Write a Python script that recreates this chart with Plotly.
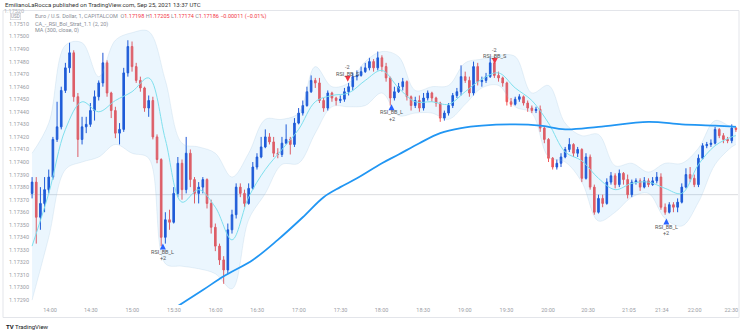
import plotly.graph_objects as go

# ---------------- data ----------------
idx = list(range(170))

opens = [1.17375, 1.17384, 1.17356, 1.17367, 1.17378, 1.17388, 1.17418, 1.17428, 1.17457, 1.17475,
         1.17487, 1.17452, 1.17418, 1.17428, 1.17430, 1.17441, 1.17452, 1.17463, 1.17479, 1.17455,
         1.17441, 1.17423, 1.17426, 1.17471, 1.17492, 1.17476, 1.17465, 1.17459, 1.17443, 1.17449,
         1.17420, 1.17402, 1.17340, 1.17354, 1.17352, 1.17375, 1.17399, 1.17378, 1.17407, 1.17386,
         1.17375, 1.17380, 1.17386, 1.17367, 1.17348, 1.17333, 1.17322, 1.17314, 1.17346, 1.17358,
         1.17380, 1.17375, 1.17367, 1.17379, 1.17396, 1.17404, 1.17412, 1.17420, 1.17416, 1.17407,
         1.17406, 1.17415, 1.17418, 1.17414, 1.17431, 1.17439, 1.17445, 1.17456, 1.17465, 1.17463,
         1.17449, 1.17443, 1.17455, 1.17451, 1.17449, 1.17450, 1.17456, 1.17460, 1.17468, 1.17469,
         1.17472, 1.17475, 1.17480, 1.17475, 1.17483, 1.17476, 1.17467, 1.17451, 1.17456, 1.17460,
         1.17464, 1.17452, 1.17445, 1.17449, 1.17443, 1.17451, 1.17455, 1.17451, 1.17447, 1.17435,
         1.17439, 1.17445, 1.17453, 1.17456, 1.17468, 1.17465, 1.17455, 1.17476, 1.17464, 1.17465,
         1.17468, 1.17479, 1.17469, 1.17467, 1.17463, 1.17448, 1.17446, 1.17450, 1.17452, 1.17447,
         1.17443, 1.17441, 1.17442, 1.17427, 1.17418, 1.17403, 1.17396, 1.17399, 1.17404, 1.17410,
         1.17414, 1.17407, 1.17410, 1.17387, 1.17404, 1.17380, 1.17360, 1.17371, 1.17367, 1.17384,
         1.17389, 1.17382, 1.17391, 1.17386, 1.17374, 1.17384, 1.17385, 1.17380, 1.17385, 1.17382,
         1.17385, 1.17388, 1.17364, 1.17360, 1.17366, 1.17364, 1.17368, 1.17380, 1.17390, 1.17387,
         1.17382, 1.17403, 1.17413, 1.17414, 1.17415, 1.17426, 1.17421, 1.17418, 1.17417, 1.17427]

highs = [1.17388, 1.17388, 1.17380, 1.17388, 1.17394, 1.17420, 1.17448, 1.17460, 1.17479, 1.17495,
         1.17489, 1.17455, 1.17436, 1.17436, 1.17447, 1.17457, 1.17465, 1.17487, 1.17481, 1.17456,
         1.17444, 1.17431, 1.17475, 1.17497, 1.17496, 1.17479, 1.17468, 1.17460, 1.17453, 1.17452,
         1.17422, 1.17403, 1.17360, 1.17362, 1.17380, 1.17404, 1.17402, 1.17420, 1.17410, 1.17388,
         1.17384, 1.17388, 1.17387, 1.17370, 1.17351, 1.17335, 1.17325, 1.17351, 1.17362, 1.17383,
         1.17383, 1.17378, 1.17383, 1.17400, 1.17407, 1.17420, 1.17426, 1.17423, 1.17420, 1.17411,
         1.17420, 1.17430, 1.17420, 1.17435, 1.17443, 1.17449, 1.17460, 1.17469, 1.17467, 1.17467,
         1.17451, 1.17457, 1.17456, 1.17452, 1.17453, 1.17459, 1.17463, 1.17471, 1.17473, 1.17476,
         1.17479, 1.17483, 1.17482, 1.17488, 1.17485, 1.17479, 1.17468, 1.17460, 1.17463, 1.17467,
         1.17465, 1.17453, 1.17452, 1.17453, 1.17455, 1.17457, 1.17456, 1.17452, 1.17448, 1.17441,
         1.17447, 1.17455, 1.17459, 1.17477, 1.17472, 1.17468, 1.17480, 1.17479, 1.17468, 1.17471,
         1.17483, 1.17484, 1.17472, 1.17468, 1.17464, 1.17451, 1.17452, 1.17454, 1.17453, 1.17449,
         1.17445, 1.17444, 1.17445, 1.17428, 1.17419, 1.17404, 1.17402, 1.17407, 1.17412, 1.17419,
         1.17415, 1.17412, 1.17411, 1.17407, 1.17406, 1.17382, 1.17374, 1.17374, 1.17387, 1.17392,
         1.17391, 1.17394, 1.17392, 1.17390, 1.17386, 1.17387, 1.17387, 1.17388, 1.17387, 1.17388,
         1.17392, 1.17391, 1.17367, 1.17368, 1.17368, 1.17371, 1.17383, 1.17395, 1.17396, 1.17390,
         1.17406, 1.17415, 1.17416, 1.17418, 1.17428, 1.17427, 1.17423, 1.17420, 1.17430, 1.17428]

lows = [1.17371, 1.17335, 1.17346, 1.17360, 1.17375, 1.17386, 1.17416, 1.17426, 1.17455, 1.17471,
        1.17448, 1.17404, 1.17414, 1.17423, 1.17428, 1.17433, 1.17449, 1.17460, 1.17452, 1.17435,
        1.17419, 1.17414, 1.17424, 1.17468, 1.17472, 1.17463, 1.17456, 1.17440, 1.17436, 1.17418,
        1.17399, 1.17333, 1.17335, 1.17346, 1.17351, 1.17372, 1.17370, 1.17375, 1.17380, 1.17367,
        1.17367, 1.17375, 1.17363, 1.17343, 1.17329, 1.17318, 1.17303, 1.17311, 1.17343, 1.17355,
        1.17372, 1.17364, 1.17366, 1.17378, 1.17394, 1.17403, 1.17411, 1.17414, 1.17404, 1.17403,
        1.17404, 1.17414, 1.17406, 1.17412, 1.17430, 1.17437, 1.17444, 1.17455, 1.17459, 1.17447,
        1.17440, 1.17441, 1.17448, 1.17445, 1.17447, 1.17448, 1.17453, 1.17457, 1.17465, 1.17468,
        1.17471, 1.17473, 1.17472, 1.17473, 1.17472, 1.17464, 1.17445, 1.17449, 1.17455, 1.17457,
        1.17449, 1.17441, 1.17443, 1.17440, 1.17441, 1.17449, 1.17448, 1.17444, 1.17432, 1.17433,
        1.17437, 1.17443, 1.17451, 1.17453, 1.17463, 1.17452, 1.17453, 1.17461, 1.17460, 1.17463,
        1.17467, 1.17467, 1.17464, 1.17460, 1.17445, 1.17444, 1.17445, 1.17448, 1.17445, 1.17440,
        1.17439, 1.17439, 1.17424, 1.17415, 1.17400, 1.17394, 1.17394, 1.17396, 1.17403, 1.17408,
        1.17404, 1.17404, 1.17384, 1.17386, 1.17378, 1.17358, 1.17359, 1.17364, 1.17366, 1.17382,
        1.17379, 1.17380, 1.17382, 1.17371, 1.17372, 1.17382, 1.17377, 1.17379, 1.17380, 1.17381,
        1.17383, 1.17362, 1.17358, 1.17359, 1.17360, 1.17360, 1.17367, 1.17379, 1.17384, 1.17380,
        1.17380, 1.17402, 1.17411, 1.17412, 1.17414, 1.17419, 1.17415, 1.17415, 1.17415, 1.17424]

closes = [1.17384, 1.17356, 1.17367, 1.17378, 1.17388, 1.17418, 1.17428, 1.17457, 1.17475, 1.17487,
          1.17452, 1.17418, 1.17428, 1.17430, 1.17441, 1.17452, 1.17463, 1.17479, 1.17455, 1.17441,
          1.17423, 1.17426, 1.17471, 1.17492, 1.17476, 1.17465, 1.17459, 1.17443, 1.17449, 1.17420,
          1.17402, 1.17340, 1.17354, 1.17352, 1.17375, 1.17399, 1.17378, 1.17407, 1.17386, 1.17375,
          1.17380, 1.17386, 1.17367, 1.17348, 1.17333, 1.17322, 1.17314, 1.17346, 1.17358, 1.17380,
          1.17375, 1.17367, 1.17379, 1.17396, 1.17404, 1.17412, 1.17420, 1.17416, 1.17407, 1.17406,
          1.17415, 1.17418, 1.17414, 1.17431, 1.17439, 1.17445, 1.17456, 1.17465, 1.17463, 1.17449,
          1.17443, 1.17455, 1.17451, 1.17449, 1.17450, 1.17456, 1.17460, 1.17468, 1.17469, 1.17472,
          1.17475, 1.17480, 1.17475, 1.17483, 1.17476, 1.17467, 1.17451, 1.17456, 1.17460, 1.17464,
          1.17452, 1.17445, 1.17449, 1.17443, 1.17451, 1.17455, 1.17451, 1.17447, 1.17435, 1.17439,
          1.17445, 1.17453, 1.17456, 1.17468, 1.17465, 1.17455, 1.17476, 1.17464, 1.17465, 1.17468,
          1.17479, 1.17469, 1.17467, 1.17463, 1.17448, 1.17446, 1.17450, 1.17452, 1.17447, 1.17443,
          1.17441, 1.17442, 1.17427, 1.17418, 1.17403, 1.17396, 1.17399, 1.17404, 1.17410, 1.17414,
          1.17407, 1.17410, 1.17387, 1.17404, 1.17380, 1.17360, 1.17371, 1.17367, 1.17384, 1.17389,
          1.17382, 1.17391, 1.17386, 1.17374, 1.17384, 1.17385, 1.17380, 1.17385, 1.17382, 1.17385,
          1.17388, 1.17364, 1.17360, 1.17366, 1.17364, 1.17368, 1.17380, 1.17390, 1.17387, 1.17382,
          1.17403, 1.17413, 1.17414, 1.17415, 1.17426, 1.17421, 1.17418, 1.17417, 1.17427, 1.17426]

band_idx = [0, 4, 8, 12, 16, 20, 24, 28, 32, 36, 40, 44, 48, 52, 56, 60, 64, 68, 72, 76, 80, 84,
            88, 92, 96, 100, 104, 108, 112, 116, 120, 124, 128, 132, 136, 140, 144, 148, 152, 156,
            160, 164, 168, 169]
bb_upper = [1.17407, 1.17431, 1.17493, 1.17495, 1.17468, 1.17497, 1.17503, 1.17504, 1.17465, 1.17415,
            1.17412, 1.17407, 1.17388, 1.17407, 1.17434, 1.17434, 1.17439, 1.17476, 1.17460, 1.17463,
            1.17480, 1.17488, 1.17484, 1.17457, 1.17460, 1.17461, 1.17479, 1.17482, 1.17485, 1.17484,
            1.17455, 1.17461, 1.17431, 1.17421, 1.17422, 1.17397, 1.17399, 1.17392, 1.17399, 1.17399,
            1.17411, 1.17433, 1.17428, 1.17429]
bb_lower = [1.17290, 1.17340, 1.17394, 1.17400, 1.17404, 1.17414, 1.17407, 1.17403, 1.17319, 1.17317,
            1.17315, 1.17311, 1.17299, 1.17354, 1.17375, 1.17398, 1.17399, 1.17423, 1.17444, 1.17444,
            1.17445, 1.17455, 1.17437, 1.17439, 1.17439, 1.17434, 1.17446, 1.17459, 1.17461, 1.17444,
            1.17439, 1.17404, 1.17400, 1.17384, 1.17353, 1.17360, 1.17372, 1.17375, 1.17355, 1.17349,
            1.17368, 1.17398, 1.17412, 1.17414]
bb_basis = [1.17333, 1.17375, 1.17426, 1.17448, 1.17440, 1.17449, 1.17456, 1.17467, 1.17418, 1.17368,
            1.17378, 1.17364, 1.17338, 1.17372, 1.17394, 1.17410, 1.17426, 1.17448, 1.17453, 1.17455,
            1.17465, 1.17473, 1.17459, 1.17448, 1.17448, 1.17446, 1.17456, 1.17466, 1.17471, 1.17459,
            1.17449, 1.17431, 1.17408, 1.17401, 1.17387, 1.17378, 1.17383, 1.17384, 1.17379, 1.17375,
            1.17398, 1.17413, 1.17420, 1.17421]

ma_idx = [33, 41, 46, 53, 59, 65, 70, 74, 78, 84, 88, 93, 98, 103, 108, 116, 122, 128, 136, 148,
          156, 164, 169]
ma_vals = [1.17281, 1.17298, 1.17309, 1.17322, 1.17338, 1.17356, 1.17372, 1.17380, 1.17387, 1.17399,
           1.17406, 1.17415, 1.17423, 1.17427, 1.17429, 1.17430, 1.17429, 1.17426, 1.17428, 1.17432,
           1.17430, 1.17429, 1.17428]

ref_price = 1.17374

tick_pos = [4.3, 14.1, 24.05, 34.06, 44.07, 54.05, 64.06, 74.06, 83.9, 93.9, 103.9, 113.9, 123.9,
            133.5, 143.3, 151.2, 159.1, 167.9]
tick_labels = ["14:00", "14:30", "15:00", "15:30", "16:00", "16:30", "17:00", "17:30", "18:00",
               "18:30", "19:00", "19:30", "20:00", "20:30", "21:05", "21:34", "22:00", "22:30"]

price_ticks = [1.17290, 1.17300, 1.17310, 1.17320, 1.17330, 1.17340, 1.17350, 1.17360, 1.17370,
               1.17380, 1.17390, 1.17400, 1.17410, 1.17420, 1.17430, 1.17440, 1.17450, 1.17460,
               1.17470, 1.17480, 1.17490, 1.17500, 1.17510]

sig_labels = ["RSI_BB_L", "RSI_BB_S", "RSI_BB_L", "RSI_BB_S", "RSI_BB_L"]
sig_qty = ["+2", "-2", "+2", "-2", "+2"]
sig_side = ["long", "short", "long", "short", "long"]
sig_idx = [31.4, 75.8, 86.3, 111.1, 152.3]
sig_price = [1.17335, 1.17464, 1.17446, 1.17478, 1.17355]

# ---------------- figure ----------------
UP = "#1f56d6"
DOWN = "#f0585a"
FONT = "Roboto"

fig = go.Figure()

# Bollinger band fill
fig.add_trace(go.Scatter(x=band_idx, y=bb_lower, mode="lines",
                         line=dict(color="rgba(150,190,215,0.30)", width=0.7, shape="spline"),
                         hoverinfo="skip", showlegend=False))
fig.add_trace(go.Scatter(x=band_idx, y=bb_upper, mode="lines", fill="tonexty",
                         fillcolor="rgba(33,150,243,0.09)",
                         line=dict(color="rgba(150,190,215,0.30)", width=0.7, shape="spline"),
                         hoverinfo="skip", showlegend=False))
fig.add_trace(go.Scatter(x=band_idx, y=bb_basis, mode="lines",
                         line=dict(color="#7fe0ee", width=1, shape="spline"),
                         hoverinfo="skip", showlegend=False))

# MA 300
fig.add_trace(go.Scatter(x=ma_idx, y=ma_vals, mode="lines",
                         line=dict(color="#2196f3", width=1.8, shape="spline"),
                         hoverinfo="skip", showlegend=False))

# candles
fig.add_trace(go.Candlestick(x=idx, open=opens, high=highs, low=lows, close=closes,
                             increasing=dict(line=dict(color=UP, width=1), fillcolor=UP),
                             decreasing=dict(line=dict(color=DOWN, width=1), fillcolor=DOWN),
                             whiskerwidth=0, showlegend=False))

# signal arrows
for lab, q, side, xi, p in zip(sig_labels, sig_qty, sig_side, sig_idx, sig_price):
    long = side == "long"
    fig.add_trace(go.Scatter(x=[xi], y=[p], mode="markers",
                             marker=dict(symbol="arrow-up" if long else "arrow-down", size=6,
                                         color="#2962ff" if long else "#f23645"),
                             hoverinfo="skip", showlegend=False))
    s = -1 if long else 1
    fig.add_annotation(x=xi, y=p, text=lab, showarrow=False, yshift=8 * s,
                       font=dict(size=5.5, color="#555555", family=FONT))
    fig.add_annotation(x=xi, y=p, text=q, showarrow=False, yshift=14.5 * s,
                       font=dict(size=5.5, color="#555555", family=FONT))

# layout helpers (pixel -> paper)
L, R, T, B = 30, 5, 11, 28
PW, PH = 743 - L - R, 333 - T - B


def px(xp):
    return (xp - L) / PW


def py(yp):
    return (333 - B - yp) / PH


fig.add_shape(type="line", xref="paper", yref="y", x0=0, x1=1, y0=ref_price, y1=ref_price,
              line=dict(color="#dcdde0", width=1), layer="below")
fig.add_shape(type="rect", xref="paper", yref="paper", x0=px(3), x1=px(739), y0=py(317.5), y1=py(10.5),
              line=dict(color="#e3e5ea", width=1), fillcolor="rgba(0,0,0,0)", layer="below")

grey = "#8a8e97"
red = "#f23645"
fig.add_annotation(xref="paper", yref="paper", x=px(3), y=py(5), xanchor="left", yanchor="middle",
                   text="EmilianoLaRocca published on TradingView.com, Sep 25, 2021 13:37 UTC",
                   showarrow=False, font=dict(size=6, color="#333333", family=FONT))
fig.add_annotation(xref="paper", yref="paper", x=px(33), y=py(16.5), xanchor="left", yanchor="middle",
                   text=(f'<span style="color:{grey}">Euro / U.S. Dollar, 1, CAPITALCOM  O</span>'
                         f'<span style="color:{red}">1.17198</span><span style="color:{grey}"> H</span>'
                         f'<span style="color:{red}">1.17205</span><span style="color:{grey}"> L</span>'
                         f'<span style="color:{red}">1.17174</span><span style="color:{grey}"> C</span>'
                         f'<span style="color:{red}">1.17186 \u22120.00011 (\u22120.01%)</span>'),
                   showarrow=False, font=dict(size=5.5, color=grey, family=FONT))
fig.add_annotation(xref="paper", yref="paper", x=px(33), y=py(24), xanchor="left", yanchor="middle",
                   text="CA_-_RSI_Bol_Strat_1.1 (2, 20)", showarrow=False,
                   font=dict(size=5.5, color=grey, family=FONT))
fig.add_annotation(xref="paper", yref="paper", x=px(33), y=py(30.5), xanchor="left", yanchor="middle",
                   text="MA (300, close, 0)", showarrow=False,
                   font=dict(size=5.5, color=grey, family=FONT))
fig.add_annotation(xref="paper", yref="paper", x=px(15), y=py(16.5), xanchor="center", yanchor="middle",
                   text="USD", showarrow=False, bordercolor="#c8cad0", borderwidth=0.6, borderpad=0.5,
                   font=dict(size=4.5, color=grey, family=FONT))
fig.add_annotation(xref="paper", yref="paper", x=px(14), y=py(10.6), xanchor="center", yanchor="middle",
                   text="1.17520", showarrow=False, font=dict(size=5.5, color="#b0b3ba", family=FONT))
fig.add_annotation(xref="paper", yref="paper", x=px(4), y=py(326), xanchor="left", yanchor="middle",
                   text="<b>TV</b> TradingView", showarrow=False,
                   font=dict(size=6, color="#131722", family=FONT))

fig.update_layout(
    width=743, height=333,
    margin=dict(l=L, r=R, t=T, b=B, pad=0),
    paper_bgcolor="white", plot_bgcolor="white",
    font=dict(family=FONT, size=5.5, color="#9a9da5"),
    showlegend=False,
    boxgap=0.45,
    xaxis=dict(range=[-0.5, 169.5], rangeslider=dict(visible=False), showgrid=False, zeroline=False,
               tickmode="array", tickvals=tick_pos, ticktext=tick_labels, ticks="",
               tickfont=dict(size=5.5, color="#9a9da5"), showline=False, fixedrange=True),
    yaxis=dict(range=[1.172861, 1.175203], side="left", showgrid=False, zeroline=False,
               tickmode="array", tickvals=price_ticks, ticktext=[f"{v:.5f}" for v in price_ticks],
               ticks="", tickfont=dict(size=5.5, color="#9a9da5"), showline=False, fixedrange=True),
)

fig.write_html("out.html")
